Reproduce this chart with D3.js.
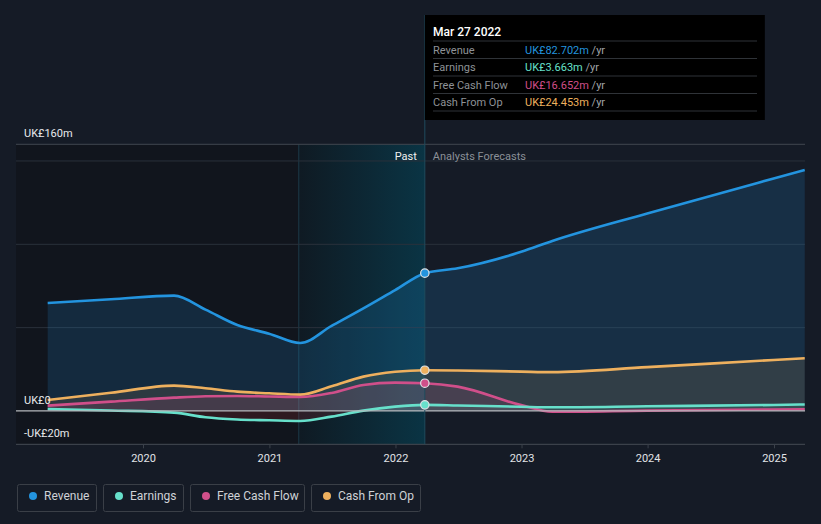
<!DOCTYPE html>
<html><head><meta charset="utf-8">
<script src="https://cdn.jsdelivr.net/npm/d3@7"></script>
<style>
html,body{margin:0;padding:0;background:#151b26;}
svg{display:block;font-family:Roboto,"Noto Sans",sans-serif;}
</style></head><body>
<svg id="c" width="821" height="524"></svg>
<script>
const dates = ["2019-03-31","2019-09-30","2020-03-31","2020-06-30","2020-09-30","2020-12-31","2021-03-31","2021-06-30","2021-09-30","2021-12-31","2022-03-27","2022-06-30","2022-12-31","2023-03-31","2023-12-31","2024-12-31","2025-03-31"];
const revenue = [64.8,67.0,69.2,60.8,51.6,46.4,40.8,51.0,61.5,72.5,82.702,85.6,95.5,102.0,118.5,139.5,144.6];
const earnings = [1.2,0.3,-1.0,-3.8,-5.1,-5.6,-6.0,-3.4,0.2,2.6,3.663,3.3,2.5,2.2,2.8,3.6,3.9];
const fcf = [3.2,5.6,8.0,8.8,9.0,8.7,8.4,10.8,15.6,17.0,16.652,14.6,3.5,-0.5,0.2,0.9,1.0];
const cfo = [6.6,10.9,15.2,13.6,11.6,10.6,9.8,14.8,20.6,23.5,24.453,24.3,23.6,23.3,26.3,30.6,31.6];
const yTicks = [160,0,-20];
const yTickLabels = ["UK£160m","UK£0","-UK£20m"];
const gridValues = [150,100,50];
const xTickYears = ["2020","2021","2022","2023","2024","2025"];
const seriesNames = ["Revenue","Earnings","Free Cash Flow","Cash From Op"];
const seriesColors = ["#2394df","#67e0cb","#d04f8a","#eeb05e"];
const tooltipDate = "Mar 27 2022";
const tooltipValues = ["UK£82.702m","UK£3.663m","UK£16.652m","UK£24.453m"];
const nowDate = "2022-03-27";
const pastStart = "2021-03-27";

const parse = d3.timeParse("%Y-%m-%d");
const svg = d3.select("#c");
const L = 16, R = 805;
const x = d3.scaleTime().domain([parse("2020-01-01"), parse("2025-01-01")]).range([143, 774]);
const y = d3.scaleLinear().domain([-20,160]).range([444.3,144.3]);
const xNow = x(parse(nowDate)), xPast = x(parse(pastStart));

const defs = svg.append("defs");
const hg = defs.append("linearGradient").attr("id","hl").attr("x1",0).attr("x2",1).attr("y1",0).attr("y2",0);
hg.append("stop").attr("offset",0).attr("stop-color","#0f1a23");
hg.append("stop").attr("offset",1).attr("stop-color","#0a3444");
const cp = defs.append("clipPath").attr("id","plot");
cp.append("rect").attr("x",L).attr("y",0).attr("width",R-L).attr("height",444.3);
const cpPos = defs.append("clipPath").attr("id","pos");
cpPos.append("rect").attr("x",L).attr("y",0).attr("width",R-L).attr("height",y(0));
const cpNeg = defs.append("clipPath").attr("id","neg");
cpNeg.append("rect").attr("x",L).attr("y",y(0)).attr("width",R-L).attr("height",444.3-y(0));

// background regions
svg.append("rect").attr("x",L).attr("y",y(160)).attr("width",xPast-L).attr("height",y(-20)-y(160)).attr("fill","#11151d");
svg.append("rect").attr("x",xPast).attr("y",y(160)).attr("width",xNow-xPast).attr("height",y(-20)-y(160)).attr("fill","url(#hl)");
svg.append("line").attr("x1",xPast).attr("x2",xPast).attr("y1",y(160)).attr("y2",y(-20)).attr("stroke","#1b3947").attr("stroke-width",1);

// grid
svg.selectAll(".g").data(gridValues).enter().append("line")
  .attr("x1",L).attr("x2",R).attr("y1",d=>y(d)).attr("y2",d=>y(d))
  .attr("stroke","#2a313b").attr("stroke-width",1);
svg.append("line").attr("x1",L).attr("x2",R).attr("y1",y(160)).attr("y2",y(160)).attr("stroke","#40464f").attr("stroke-width",1);

const pts = dates.map(parse);
const series = [revenue, earnings, fcf, cfo];
const curve = d3.curveMonotoneX;
const area = vals => d3.area().x((d,i)=>x(pts[i])).y0(y(0)).y1(d=>y(d)).curve(curve)(vals);
const line = vals => d3.line().x((d,i)=>x(pts[i])).y(d=>y(d)).curve(curve)(vals);

const g = svg.append("g").attr("clip-path","url(#plot)");
const fillOp = [0.17, 0.12, 0.14, 0.12];
// areas: revenue, cfo, fcf, earnings
[0,3,2].forEach(k=>{
  g.append("path").attr("d",area(series[k])).attr("fill",seriesColors[k]).attr("fill-opacity",fillOp[k]);
});
g.append("path").attr("d",area(earnings)).attr("fill",seriesColors[1]).attr("fill-opacity",0.1).attr("clip-path","url(#pos)");
g.append("g").attr("clip-path","url(#neg)").append("path").attr("d",area(earnings)).attr("fill","#b8303a").attr("fill-opacity",0.18);

// zero line
svg.append("line").attr("x1",L).attr("x2",R).attr("y1",y(0)).attr("y2",y(0)).attr("stroke","#b5b8bc").attr("stroke-width",1.3);
// axis line
svg.append("line").attr("x1",L).attr("x2",R).attr("y1",y(-20)).attr("y2",y(-20)).attr("stroke","#3b414a").attr("stroke-width",1.2);

// lines
[3,2,1,0].forEach(k=>{
  g.append("path").attr("d",line(series[k])).attr("fill","none").attr("stroke",seriesColors[k]).attr("stroke-width",2.6).attr("stroke-linejoin","round");
});

// x axis
const xa = svg.append("g").attr("transform",`translate(0,${y(-20)})`)
  .call(d3.axisBottom(x).tickValues(xTickYears.map(s=>parse(s+"-01-01"))).tickFormat(d3.timeFormat("%Y")).tickSize(4).tickPadding(6));
xa.select(".domain").remove();
xa.selectAll("line").attr("stroke","#3b414a");
xa.selectAll("text").attr("fill","#e2e4e7").attr("font-size",11).attr("font-family","Roboto,sans-serif");

// y labels
svg.selectAll(".yl").data(yTicks).enter().append("text")
  .attr("x",24).attr("y",d=>y(d)-7).text((d,i)=>yTickLabels[i])
  .attr("fill","#e8eaec").attr("font-size",11);

// Past / forecast labels
svg.append("text").attr("x",xNow-8).attr("y",160).attr("text-anchor","end").attr("fill","#f0f0f0").attr("font-size",11).text("Past");
svg.append("text").attr("x",xNow+8).attr("y",160).attr("fill","#8b9097").attr("font-size",11).text("Analysts Forecasts");

// now line
svg.append("line").attr("x1",xNow).attr("x2",xNow).attr("y1",15).attr("y2",y(-20)).attr("stroke","#1f4b5c").attr("stroke-width",1);

// dots
series.forEach((vals,k)=>{
  const i = dates.indexOf(nowDate);
  svg.append("circle").attr("cx",x(pts[i])).attr("cy",y(vals[i])).attr("r",4.2)
    .attr("fill",seriesColors[k]).attr("stroke","#dfe3e6").attr("stroke-width",1.2);
});

// tooltip
const tt = svg.append("g");
tt.append("rect").attr("x",xNow).attr("y",15).attr("width",340).attr("height",105).attr("fill","#000");
tt.append("text").attr("x",433).attr("y",35.5).attr("fill","#fff").attr("font-size",12).attr("font-weight",500).text(tooltipDate);
const rowY = [41,58.5,76,93.5,111];
rowY.forEach(yy=>tt.append("line").attr("x1",433).attr("x2",757).attr("y1",yy).attr("y2",yy).attr("stroke","#2f3338").attr("stroke-width",1));
seriesNames.forEach((n,k)=>{
  const by = rowY[k]+12.5;
  tt.append("text").attr("x",433).attr("y",by).attr("fill","#8e9297").attr("font-size",11).text(n);
  const t = tt.append("text").attr("x",525).attr("y",by).attr("font-size",11);
  t.append("tspan").attr("fill",seriesColors[k]).text(tooltipValues[k]);
  t.append("tspan").attr("fill","#a0a4a8").text(" /yr");
});

// legend
const lg = svg.append("g");
let lx = 17;
const widths = [80,81,115,110];
seriesNames.forEach((n,k)=>{
  const gg = lg.append("g").attr("transform",`translate(${lx},484)`);
  gg.append("rect").attr("x",0.5).attr("y",0.5).attr("width",widths[k]-1).attr("height",27).attr("rx",2)
    .attr("fill","none").attr("stroke","#3a3f47");
  gg.append("circle").attr("cx",16).attr("cy",12).attr("r",4).attr("fill",seriesColors[k]);
  gg.append("text").attr("x",27).attr("y",16).attr("fill","#cfd2d6").attr("font-size",12).text(n);
  lx += widths[k] + 6;
});
</script>
</body></html>
